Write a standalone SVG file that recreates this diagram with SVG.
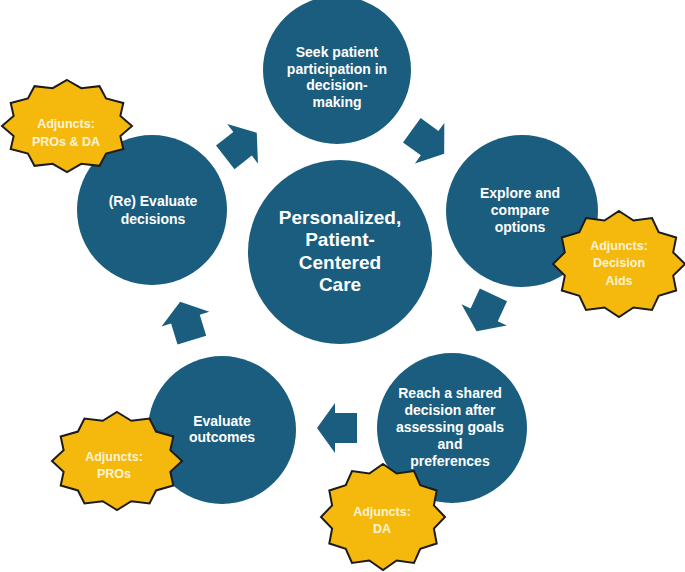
<svg xmlns="http://www.w3.org/2000/svg" xmlns:xlink="http://www.w3.org/1999/xlink" width="685" height="572" viewBox="0 0 685 572">
  <style>
    .step { fill: #1a5d7e; }
    .arrow { fill: #1a5d7e; }
    .label { font-family: "Liberation Sans", Arial, sans-serif; font-weight: bold; font-size: 14px; fill: #ffffff; text-anchor: middle; }
    .hub { font-family: "Liberation Sans", Arial, sans-serif; font-weight: bold; font-size: 19px; fill: #ffffff; text-anchor: middle; }
    .adj { font-family: "Liberation Sans", Arial, sans-serif; font-weight: bold; font-size: 12.5px; fill: #fdf4d6; text-anchor: middle; }
    .burst { fill: #f5b80c; stroke: #1c1c1c; stroke-width: 2; stroke-linejoin: miter; }
  </style>
  <defs>
    <!-- 12-point burst, unit radius; scaled per node -->
    <polygon id="burst" class="burst" vector-effect="non-scaling-stroke"
      points="0,-1 0.22,-0.821 0.5,-0.866 0.601,-0.601 0.866,-0.5 0.821,-0.22 1,0 0.821,0.22 0.866,0.5 0.601,0.601 0.5,0.866 0.22,0.821 0,1 -0.22,0.821 -0.5,0.866 -0.601,0.601 -0.866,0.5 -0.821,0.22 -1,0 -0.821,-0.22 -0.866,-0.5 -0.601,-0.601 -0.5,-0.866 -0.22,-0.821"/>
    <!-- block arrow pointing along +x, centred on the origin -->
    <polygon id="blockArrow" points="-20,-15 2,-15 2,-25 20,0 2,25 2,15 -20,15"/>
  </defs>

  <rect width="685" height="572" fill="#ffffff"/>

  <!-- cycle arrows -->
  <g id="connectors" class="arrow">
    <use xlink:href="#blockArrow" transform="translate(241,145) rotate(-38)"/>
    <use xlink:href="#blockArrow" transform="translate(428,142) rotate(36)"/>
    <use xlink:href="#blockArrow" transform="translate(485,313) rotate(115)"/>
    <use xlink:href="#blockArrow" transform="translate(337,428) rotate(180)"/>
    <use xlink:href="#blockArrow" transform="translate(186,321) rotate(-107)"/>
  </g>

  <g id="hub">
    <circle class="step" cx="340" cy="252" r="92"/>
    <text class="hub" x="340" y="224">Personalized,</text>
    <text class="hub" x="340" y="246">Patient-</text>
    <text class="hub" x="340" y="269">Centered</text>
    <text class="hub" x="340" y="291">Care</text>
  </g>

  <g id="seek">
    <circle class="step" cx="337" cy="70" r="74"/>
    <text class="label" x="337" y="57">Seek patient</text>
    <text class="label" x="337" y="73.5">participation in</text>
    <text class="label" x="337" y="90">decision-</text>
    <text class="label" x="337" y="107">making</text>
  </g>

  <g id="explore">
    <circle class="step" cx="522" cy="211" r="76"/>
    <text class="label" x="520" y="198">Explore and</text>
    <text class="label" x="520" y="215">compare</text>
    <text class="label" x="520" y="232">options</text>
  </g>

  <g id="reach">
    <circle class="step" cx="452" cy="428" r="75"/>
    <text class="label" x="450" y="398">Reach a shared</text>
    <text class="label" x="450" y="415">decision after</text>
    <text class="label" x="450" y="432">assessing goals</text>
    <text class="label" x="450" y="449">and</text>
    <text class="label" x="450" y="466">preferences</text>
  </g>

  <g id="evaluate-outcomes">
    <circle class="step" cx="222" cy="430" r="74"/>
    <text class="label" x="222" y="426">Evaluate</text>
    <text class="label" x="222" y="442">outcomes</text>
  </g>

  <g id="re-evaluate">
    <circle class="step" cx="152" cy="210" r="75"/>
    <text class="label" x="153" y="206">(Re) Evaluate</text>
    <text class="label" x="153" y="224">decisions</text>
  </g>

  <!-- adjunct bursts -->
  <g id="adjunct-pros-da">
    <use xlink:href="#burst" transform="translate(67,126) scale(65,46)"/>
    <text class="adj" x="66" y="128">Adjuncts:</text>
    <text class="adj" x="66" y="146">PROs &amp; DA</text>
  </g>

  <g id="adjunct-decision-aids">
    <use xlink:href="#burst" transform="translate(619,264) scale(66,53)"/>
    <text class="adj" x="619" y="250">Adjuncts:</text>
    <text class="adj" x="619" y="267">Decision</text>
    <text class="adj" x="619" y="285">Aids</text>
  </g>

  <g id="adjunct-pros">
    <use xlink:href="#burst" transform="translate(117,461) scale(65,49)"/>
    <text class="adj" x="114" y="461">Adjuncts:</text>
    <text class="adj" x="114" y="478">PROs</text>
  </g>

  <g id="adjunct-da">
    <use xlink:href="#burst" transform="translate(383,517) scale(62,53)"/>
    <text class="adj" x="382" y="516">Adjuncts:</text>
    <text class="adj" x="382" y="533">DA</text>
  </g>
</svg>
